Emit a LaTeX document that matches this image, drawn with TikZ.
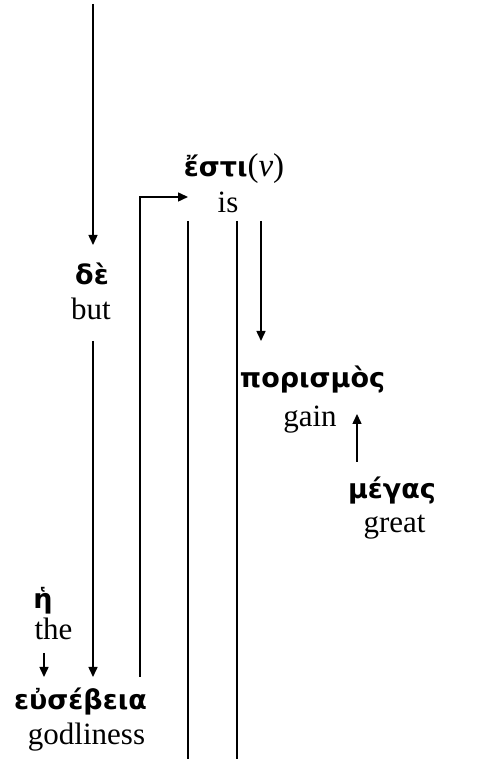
\documentclass[tikz,border=0pt]{standalone}
\usepackage{fontspec}
\setmainfont{Liberation Serif}
\newfontfamily\grk{DejaVu Sans}
\usetikzlibrary{arrows.meta}
\begin{document}
\begin{tikzpicture}[x=1pt,y=1pt,
  gk/.style={font=\grk\bfseries\fontsize{27}{31}\selectfont, inner sep=0pt, anchor=base},
  en/.style={font=\fontsize{31}{36}\selectfont, inner sep=0pt, anchor=base},
  conn/.style={line width=1.5pt},
  arr/.style={conn,-{Triangle[length=10pt,width=9pt]}}]
\useasboundingbox (0,0) rectangle (486,759);
% words
\node[gk] (de) at (92,474) {δὲ};
\node[en] (but) at (91,439) {but};
\node[gk] (esti) at (234,582) {ἔστι\normalfont\fontsize{33}{38}\selectfont(\textit{ν})};
\node[en] (is) at (228,546) {is};
\node[gk] (poris) at (312.5,371) {πορισμὸς};
\node[en] (gain) at (310,332) {gain};
\node[gk] (megas) at (392,260) {μέγας};
\node[en] (great) at (394.5,226) {great};
\node[gk] (h) at (43,150) {ἡ};
\node[en] (the) at (53.5,119) {the};
\node[gk] (eus) at (80.5,49) {εὐσέβεια};
\node[en] (godl) at (86.5,14) {godliness};
% connectors
\draw[arr] ([xshift=1pt,yshift=281pt]de.base) -- ([xshift=1pt,yshift=40pt]de.base);
\draw[arr] ([xshift=2pt,yshift=-21pt]but.base) -- ([xshift=12.5pt,yshift=33pt]eus.base);
\draw[arr] ([xshift=59.5pt,yshift=33pt]eus.base) |- ([xshift=-40pt,yshift=16pt]is.base);
\draw[conn] ([xshift=-40pt,yshift=-8pt]is.base) -- ([xshift=-40pt,yshift=-546pt]is.base);
\draw[conn] ([xshift=9pt,yshift=-8pt]is.base) -- ([xshift=9pt,yshift=-546pt]is.base);
\draw[arr] ([xshift=33pt,yshift=-8pt]is.base) -- ([xshift=-51.5pt,yshift=47pt]poris.base);
\draw[arr] ([xshift=-35pt,yshift=37pt]megas.base) -- ([xshift=47pt,yshift=13pt]gain.base);
\draw[arr] ([xshift=-9.5pt,yshift=-13pt]the.base) -- ([xshift=-36.5pt,yshift=33pt]eus.base);
\end{tikzpicture}
\end{document}
